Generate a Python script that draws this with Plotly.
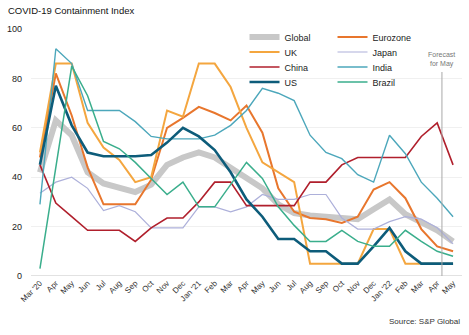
import plotly.graph_objects as go

months = ["Mar '20", "Apr", "May", "Jun", "Jul", "Aug", "Sep", "Oct", "Nov", "Dec",
          "Jan '21", "Feb", "Mar", "Apr", "May", "Jun", "Jul", "Aug", "Sep", "Oct", "Nov", "Dec",
          "Jan '22", "Feb", "Mar", "Apr", "May"]

global_idx = [42, 63, 57, 42, 37.5, 36, 34, 37, 45, 48, 50, 48, 44, 40, 35.5, 29, 25.5, 24.5, 24, 23.5, 23, 27, 31, 25, 22, 18.5, 14]
eurozone = [48, 82, 65, 44, 29, 29, 29, 39, 60, 64, 68.5, 66, 63, 69, 58, 35.5, 26, 23.5, 23, 21.5, 24, 35, 38, 31.5, 19, 12, 10]
uk = [50, 86, 86, 62, 52, 47, 38, 40, 67, 64.5, 86, 86, 76.5, 60, 46, 42, 38, 5, 5, 5, 5, 19, 19, 5, 5, 5, 5]
japan = [33.5, 38, 40, 35.5, 26.5, 28.5, 26, 19.5, 19.5, 19.5, 28, 28, 26, 28, 33, 31, 31, 33, 33, 23.5, 19, 19, 22, 24, 23, 19.5, 13]
china = [45, 29.5, 24, 18.5, 18.5, 18.5, 14, 19.5, 23.5, 23.5, 30, 38, 38, 28.5, 28.5, 28.5, 28.5, 38, 38, 45, 48, 48, 48, 48, 56.5, 62, 45]
india = [29, 92, 86, 67, 67, 67, 62.5, 56.5, 55.5, 55.5, 55.5, 57, 61, 67, 76, 74, 71, 57, 50, 47.5, 41, 38, 57, 49.5, 38, 31.5, 24]
us = [45, 77, 61, 50, 48.5, 48.5, 48.5, 49, 54, 60, 56.5, 51, 42, 31, 24, 15, 15, 10, 10, 5, 5, 12, 19.5, 10, 5, 5, 5]
brazil = [3, 44, 85, 73, 54.5, 51.5, 46, 39.5, 33, 38, 28, 28, 37, 46, 39.5, 28, 20.5, 14, 14, 18.5, 14, 12, 12, 18.5, 14, 10, 8]

x = list(range(len(months)))

series = [
    ("Global", global_idx, "#C8C8C8", 6, "legend"),
    ("Eurozone", eurozone, "#E8762D", 2, "legend"),
    ("UK", uk, "#F4A63F", 2, "legend2"),
    ("Japan", japan, "#ADB0DA", 1.2, "legend2"),
    ("China", china, "#B01F2C", 1.6, "legend3"),
    ("India", india, "#4CA7BB", 1.4, "legend3"),
    ("US", us, "#0D5C7A", 2.6, "legend4"),
    ("Brazil", brazil, "#3AAE8C", 1.5, "legend4"),
]

fig = go.Figure()
for name, vals, color, w, lg in series:
    fig.add_trace(go.Scatter(x=x, y=vals, mode="lines", name=name,
                             line=dict(color=color, width=w), legend=lg,
                             hoverinfo="skip"))

L, R, T, B = 28, 7, 29, 59
W, H = 469, 335
pw, ph = W - L - R, H - T - B

def py(p):
    return 1 - (p - T) / ph

lx = (243 - L) / pw
leg_common = dict(orientation="h", xanchor="left", yanchor="middle", x=lx,
                  entrywidth=43, entrywidthmode="pixels", bgcolor="rgba(0,0,0,0)",
                  font=dict(family="Liberation Sans, Arial", size=9, color="#222222"),
                  itemwidth=30, tracegroupgap=0)

fig.update_layout(
    width=W, height=H,
    margin=dict(l=L, r=R, t=T, b=B, pad=0),
    paper_bgcolor="white", plot_bgcolor="white",
    font=dict(family="Liberation Sans, Arial", size=9, color="#222222"),
    showlegend=True,
    legend=dict(leg_common, y=py(37)),
    legend2=dict(leg_common, y=py(52)),
    legend3=dict(leg_common, y=py(67)),
    legend4=dict(leg_common, y=py(82)),
    xaxis=dict(range=[-0.5625, 26.5625], tickvals=x, ticktext=months, tickangle=-45,
               showgrid=False, zeroline=False, showline=False, ticks="",
               tickfont=dict(size=8, color="#333333")),
    yaxis=dict(range=[0, 100], tickvals=[0, 20, 40, 60, 80, 100],
               showgrid=True, gridcolor="#F0F0F0", gridwidth=1, zeroline=False,
               showline=False, ticks="", ticklabelstandoff=8,
               tickfont=dict(size=9, color="#222222")),
    title=dict(text="COVID-19 Containment Index", x=0, xref="container", xanchor="left",
               y=1 - 11 / H, yanchor="middle", pad=dict(l=8),
               font=dict(size=9.5, color="#111111")),
)

# baseline
fig.add_shape(type="line", xref="paper", yref="y", x0=0, x1=1, y0=0, y1=0,
              line=dict(color="#D9D9D9", width=1.5), layer="below")
# forecast marker
fc = 25.3
fig.add_shape(type="line", xref="x", yref="paper", x0=fc, x1=fc, y0=0, y1=py(72),
              line=dict(color="#A8A8A8", width=1))
fig.add_annotation(x=fc, xref="x", y=py(60), yref="paper", text="Forecast<br>for May",
                   showarrow=False, font=dict(size=7, color="#777777"),
                   xanchor="center", yanchor="middle", align="center")
fig.add_annotation(x=1, xref="paper", y=-(321 - T - ph) / ph, yref="paper",
                   text="Source: S&P Global", showarrow=False,
                   font=dict(size=8, color="#333333"), xanchor="right", yanchor="middle")

fig.write_html("out.html")
